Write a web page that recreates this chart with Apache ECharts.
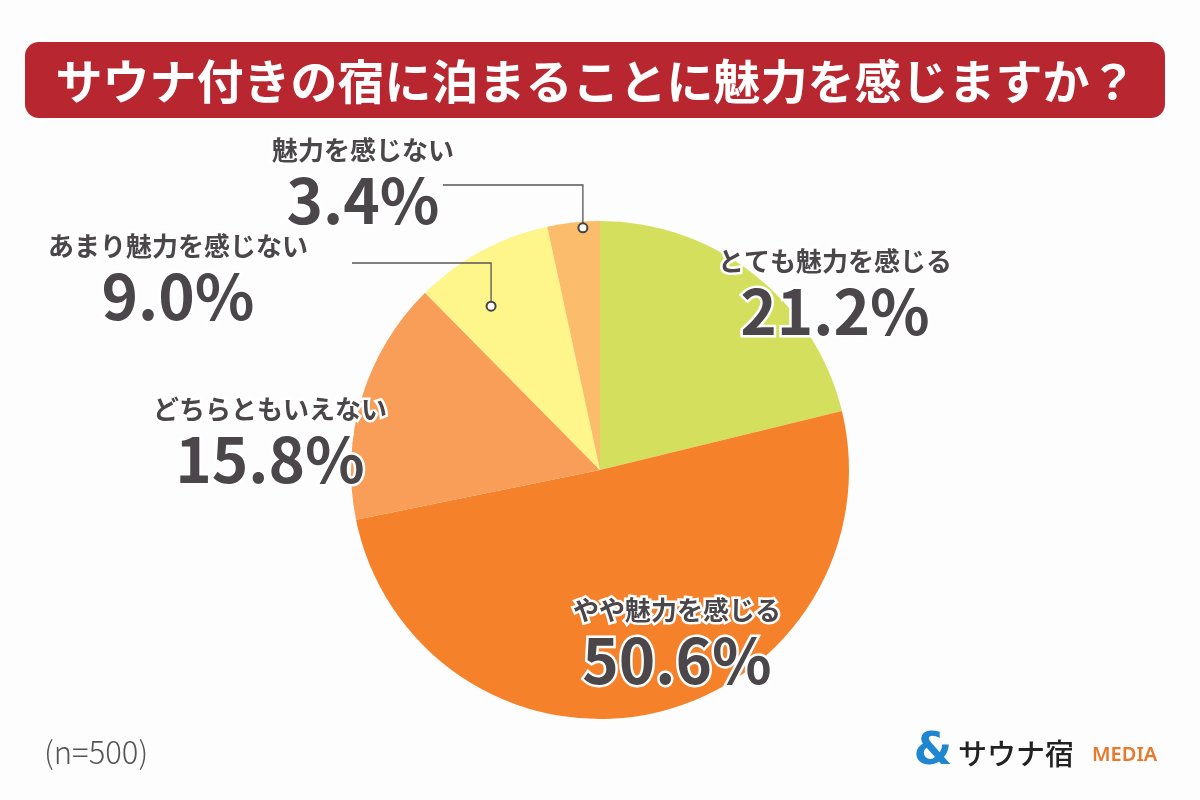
<!DOCTYPE html>
<html lang="ja">
<head>
    <meta charset="utf-8"/>
    <title>サウナ付きの宿</title>
    <script src="https://cdn.jsdelivr.net/npm/echarts@6/dist/echarts.min.js"></script>
    <style>
        html, body { margin: 0; padding: 0; background: #fdfdfd; }
        #main { width: 1200px; height: 800px; }
    </style>
</head>
<body>
<div id="main"></div>
<script type="text/javascript">
    // data
    var categories = ['とても魅力を感じる', 'やや魅力を感じる', 'どちらともいえない', 'あまり魅力を感じない', '魅力を感じない'];
    var percents = [21.2, 50.6, 15.8, 9.0, 3.4];
    var sliceColors = ['#d4df5d', '#f5812b', '#f99e59', '#fef68a', '#fbbc6b'];
    var sampleNote = '(n=500)';

    // layout
    var cx = 600, cy = 470, radius = 249;
    var labelPos = [[835, 293], [677, 642], [270, 441], [178, 278], [363, 182]];
    // leader lines for the small slices: [index, fraction along slice, radius factor, line y, line start x]
    var leaders = [[4, 0.67, 0.975, 185, 443], [3, 0.34, 0.79, 263, 352]];

    var textColor = '#4b4649';
    var dom = document.getElementById('main');
    var myChart = echarts.init(dom);

    function sliceAngle(idx, frac) {
        var total = percents.reduce(function (a, b) { return a + b; }, 0);
        var before = 0;
        for (var i = 0; i < idx; i++) before += percents[i];
        var p = (before + percents[idx] * frac) / total;
        return p * Math.PI * 2; // clockwise from top
    }

    var graphics = [
        {
            type: 'rect', shape: {x: 25, y: 42, width: 1140, height: 76, r: 14},
            style: {fill: '#b8262f'}
        },
        {
            type: 'text', x: 596, y: 81,
            style: {
                text: 'サウナ付きの宿に泊まることに魅力を感じますか？',
                fill: '#fff', font: 'bold 47px "Noto Sans CJK JP"',
                textAlign: 'center', textVerticalAlign: 'middle'
            }
        },
        {
            type: 'text', x: 44, y: 752,
            style: {
                text: sampleNote, fill: '#555', font: '300 31px "Noto Sans CJK JP"',
                textAlign: 'left', textVerticalAlign: 'middle'
            }
        },
        {
            type: 'text', x: 933, y: 753,
            style: {
                text: '&', fill: '#1f86d0', font: 'bold 44px "DejaVu Sans"',
                textAlign: 'center', textVerticalAlign: 'middle'
            }
        },
        {
            type: 'text', x: 958, y: 754,
            style: {
                text: 'サウナ宿', fill: '#222', font: '500 29px "Noto Sans CJK JP"',
                textAlign: 'left', textVerticalAlign: 'middle'
            }
        },
        {
            type: 'text', x: 1092, y: 755,
            style: {
                text: 'MEDIA', fill: '#e8792a', font: '600 20px "Noto Sans"',
                textAlign: 'left', textVerticalAlign: 'middle'
            }
        }
    ];

    leaders.forEach(function (l) {
        var a = sliceAngle(l[0], l[1]);
        var mx = cx + Math.sin(a) * radius * l[2];
        var my = cy - Math.cos(a) * radius * l[2];
        graphics.push({
            type: 'polyline', z: 10,
            shape: {points: [[l[4], l[3]], [mx, l[3]], [mx, my - 4]]},
            style: {stroke: '#555', lineWidth: 1.3, fill: null}
        });
        graphics.push({
            type: 'circle', z: 10,
            shape: {cx: mx, cy: my, r: 4.5},
            style: {stroke: '#444', lineWidth: 2, fill: '#fff'}
        });
    });

    var seriesData = categories.map(function (c, i) {
        return {name: c, value: percents[i], itemStyle: {color: sliceColors[i]}};
    });

    var option = {
        backgroundColor: '#fdfdfd',
        animation: false,
        graphic: graphics,
        series: [{
            type: 'pie',
            center: [cx, cy],
            radius: [0, radius],
            startAngle: 90,
            clockwise: true,
            data: seriesData,
            label: {
                show: true,
                formatter: function (p) {
                    return '{n|' + p.name + '}\n{v|' + p.value.toFixed(1) + '%}';
                },
                textBorderColor: '#fff',
                textBorderWidth: 5,
                rich: {
                    n: {
                        fontFamily: 'Noto Sans CJK JP', fontWeight: 'bold', fontSize: 26,
                        color: textColor, lineHeight: 36, align: 'center',
                        textBorderColor: '#fff', textBorderWidth: 5
                    },
                    v: {
                        fontFamily: 'Noto Sans CJK JP', fontWeight: 'bold', fontSize: 62,
                        color: textColor, lineHeight: 64, align: 'center',
                        textBorderColor: '#fff', textBorderWidth: 5
                    }
                }
            },
            labelLine: {show: false},
            labelLayout: function (params) {
                var pos = labelPos[params.dataIndex];
                return {x: pos[0], y: pos[1], align: 'center', verticalAlign: 'middle'};
            },
            emphasis: {disabled: true}
        }]
    };

    myChart.setOption(option, true);
</script>
</body>
</html>
